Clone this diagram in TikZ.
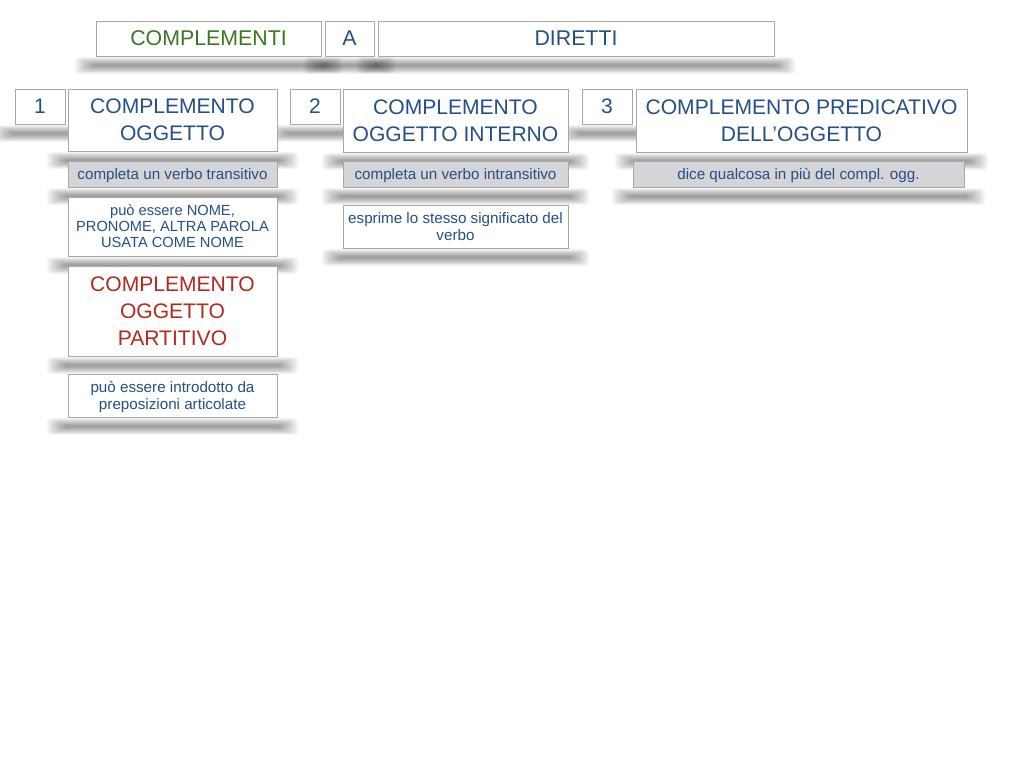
\documentclass[tikz,border=0pt]{standalone}
\usepackage{fontspec}
\setmainfont{Liberation Sans}
\usetikzlibrary{backgrounds,calc}
\definecolor{tblue}{RGB}{36,80,135}
\definecolor{tgreen}{RGB}{58,120,34}
\definecolor{tred}{RGB}{178,42,30}
\definecolor{bordergray}{RGB}{168,168,170}
\definecolor{boxgray}{RGB}{213,212,216}
\begin{document}
\begin{tikzpicture}[x=0.75pt,y=-0.75pt,
  box/.style={draw=bordergray, line width=0.75pt, fill=white, inner sep=0pt, align=center, text=tblue},
  big/.style={font=\fontsize{15.8}{20.25}\selectfont},
  title/.style={font=\fontsize{16}{20}\selectfont},
  small/.style={font=\fontsize{11.4}{12.8}\selectfont, text depth=0pt},
  smaller/.style={font=\fontsize{11}{12}\selectfont, text depth=0pt},
  graybox/.style={box, fill=boxgray},
  numbox/.style={box, big, minimum width=37.5pt, minimum height=26.25pt},
  softshadow/.style={fill=black, opacity=0.03, rounded corners=3pt}]
\useasboundingbox (0,0) rectangle (1024,768);

% header row
\node[box, title, text=tgreen, minimum width=168.75pt, minimum height=26.25pt] (compl) at (208.5,38.5) {COMPLEMENTI};
\node[box, title, minimum width=36.75pt, minimum height=26.25pt] (a) at (349.5,38.5) {A};
\node[box, title, minimum width=297pt, minimum height=26.25pt] (dir) at (576,38.5) {DIRETTI};

% column 1
\node[numbox] (n1) at (40,106.5) {1};
\node[box, big, minimum width=156.75pt, minimum height=46.5pt] (co) at (172.5,120) {COMPLEMENTO\\OGGETTO};
\node[graybox, small, minimum width=156.75pt, minimum height=19.5pt] (g1) at (172.5,174) {completa un verbo transitivo};
\node[box, smaller, minimum width=156.75pt, minimum height=44.25pt] (b1) at (172.5,226.5) {può essere NOME,\\PRONOME, ALTRA PAROLA\\USATA COME NOME};
\node[box, big, text=tred, minimum width=156.75pt, minimum height=67.5pt] (part) at (172.5,311) {COMPLEMENTO\\OGGETTO\\PARTITIVO};
\node[box, small, minimum width=156.75pt, minimum height=32.25pt] (b2) at (172.5,395.5) {può essere introdotto da\\preposizioni articolate};

% column 2
\node[numbox] (n2) at (315,106.5) {2};
\node[box, big, minimum width=168.75pt, minimum height=47.25pt] (coi) at (455.5,120.5) {COMPLEMENTO\\OGGETTO INTERNO};
\node[graybox, small, minimum width=168.75pt, minimum height=19.5pt] (g2) at (455.5,174) {completa un verbo intransitivo};
\node[box, small, minimum width=168.75pt, minimum height=32.25pt] (b3) at (455.5,226.5) {esprime lo stesso significato del\\verbo};

% column 3
\node[numbox] (n3) at (607,106.5) {3};
\node[box, big, minimum width=248.25pt, minimum height=47.25pt] (cpo) at (801.5,120.5) {COMPLEMENTO PREDICATIVO\\DELL’OGGETTO};
\node[graybox, small, minimum width=248.25pt, minimum height=19.5pt] (g3) at (798.5,174) {dice qualcosa in più del compl. ogg.};

% soft shadows
\begin{scope}[on background layer]
  \fill[white] (0,0) rectangle (1024,768);
  \foreach \n in {compl,a,dir,n1,co,g1,b1,part,b2,n2,coi,g2,b3,n3,cpo,g3} {
    \foreach \i in {1,...,14} {
      \fill[softshadow]
        ($(\n.south west)+(-1.5*\i, 9-0.6*\i)$) rectangle ($(\n.south east)+(1.5*\i, 9+0.6*\i)$);
    }
  }
\end{scope}
\end{tikzpicture}
\end{document}
